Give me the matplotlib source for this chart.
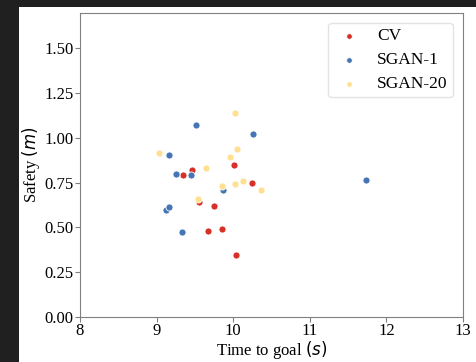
import matplotlib
matplotlib.use("Agg")
import matplotlib.pyplot as plt
from matplotlib.patches import Rectangle

# time to goal (s) / safety (m) per planner
cv_time = [9.27, 9.34, 9.46, 9.56, 9.75, 9.67, 9.86, 10.01, 10.24, 10.04]
cv_safety = [0.80, 0.79, 0.82, 0.64, 0.62, 0.48, 0.49, 0.85, 0.75, 0.345]

sgan1_time = [9.25, 9.165, 9.52, 9.45, 9.87, 10.26, 9.12, 9.165, 9.33, 11.735]
sgan1_safety = [0.80, 0.905, 1.07, 0.79, 0.71, 1.02, 0.595, 0.615, 0.475, 0.767]

sgan20_time = [9.035, 10.03, 10.05, 9.96, 9.64, 9.85, 10.02, 10.13, 10.36, 9.54]
sgan20_safety = [0.913, 1.14, 0.94, 0.895, 0.83, 0.73, 0.745, 0.76, 0.71, 0.657]

labels = ["CV", "SGAN-1", "SGAN-20"]
colors = ["#d73027", "#4575b4", "#fee090"]

plt.rcParams["font.family"] = ["Liberation Serif", "DejaVu Serif"]
plt.rcParams["font.size"] = 12

fig = plt.figure(figsize=(4.76, 3.62), dpi=100, facecolor="#202020")
# white canvas behind the plot
fig.patches.append(Rectangle((19 / 476, 0), 1 - 19 / 476, 1 - 7 / 362,
                             transform=fig.transFigure, facecolor="white",
                             edgecolor="none", zorder=-10))

ax = fig.add_axes([80 / 476, 1 - 317 / 362, (463 - 80) / 476, (317 - 12.5) / 362])

series = [(cv_time, cv_safety), (sgan1_time, sgan1_safety), (sgan20_time, sgan20_safety)]
for (xs, ys), lab, col in zip(series, labels, colors):
    ax.scatter(xs, ys, s=26, color=col, edgecolors="white", linewidths=0.6, label=lab)

ax.set_xlim(8, 13)
ax.set_ylim(0, 1.7)
ax.set_xticks([8, 9, 10, 11, 12, 13])
ax.set_yticks([0, 0.25, 0.5, 0.75, 1.0, 1.25, 1.5])
ax.set_yticklabels(["%.2f" % v for v in [0, 0.25, 0.5, 0.75, 1.0, 1.25, 1.5]])
ax.set_xlabel("Time to goal $(s)$", labelpad=0)
ax.set_ylabel("Safety $(m)$", labelpad=2)

for sp in ax.spines.values():
    sp.set_color("#808080")
ax.tick_params(length=3.5, width=0.8, color="#808080", pad=1)

leg = ax.legend(loc="upper right", handletextpad=0.7, borderpad=0.3,
                labelspacing=0.45, markerscale=0.8, fancybox=True,
                fontsize=12.5, handlelength=1.8, borderaxespad=0.6)
leg.get_frame().set_edgecolor("#dddddd")

fig.savefig("out.png", dpi=100, facecolor=fig.get_facecolor())
